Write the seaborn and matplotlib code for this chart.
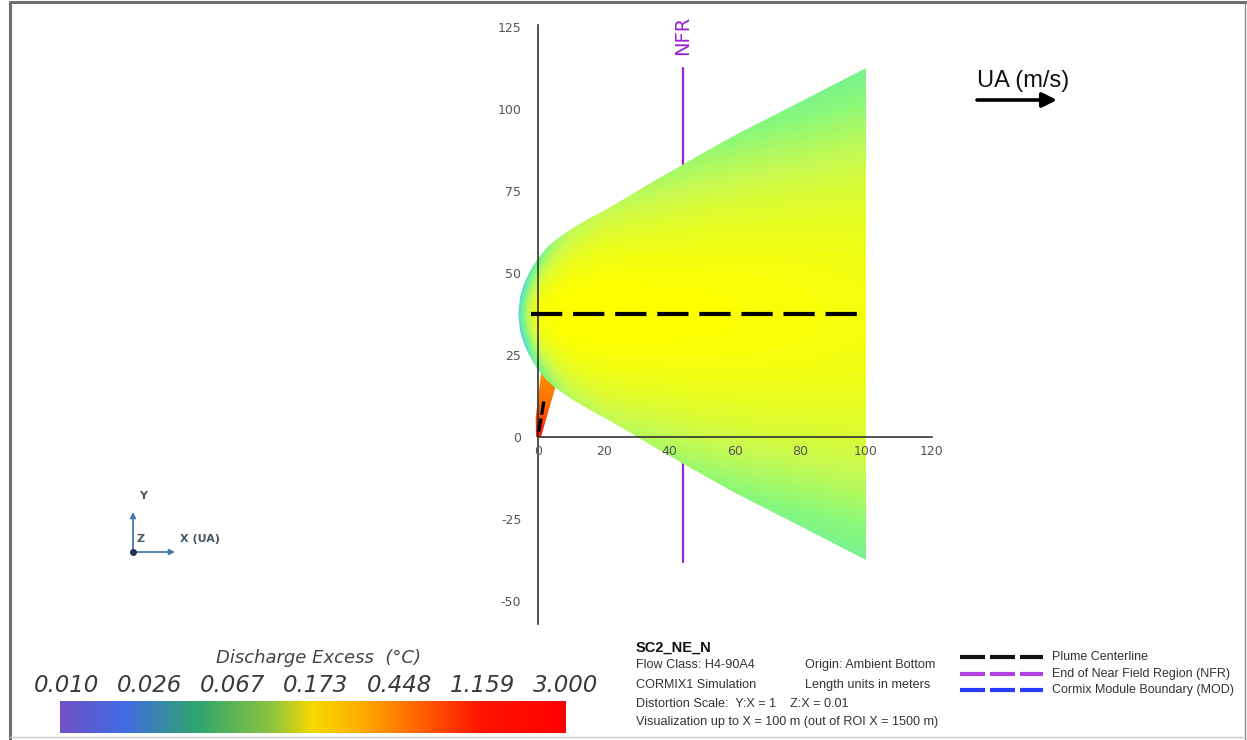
import numpy as np
import matplotlib
matplotlib.use("Agg")
import matplotlib.pyplot as plt
import seaborn as sns
from matplotlib.colors import LinearSegmentedColormap
from matplotlib.patches import Polygon
from matplotlib.lines import Line2D

# ---------------- data ----------------
station_x = [-6, -5.5, -5, -4, -3, -1.5, 0, 2.5, 5, 10, 15, 20, 27, 35, 44, 60, 80, 100]
half_width = [0, 4.9, 6.9, 9.8, 12, 14.7, 17, 20, 22.3, 25.8, 28.8, 31.5, 35.5, 40.3, 45.5, 54.5, 64.7, 75]
centerline_y = 37.5
centerline_x = [-2, 100]

conc_x = [-6, -3, 0, 5, 10, 20, 40, 60, 80, 100]
core_conc = [0.045, 0.12, 0.165, 0.172, 0.175, 0.175, 0.172, 0.17, 0.167, 0.163]
edge_conc = [0.035, 0.05, 0.075, 0.10, 0.115, 0.12, 0.105, 0.092, 0.082, 0.076]

jet_x = [-0.6, 0.9, 5.4, 4.8, 1.0, -0.7]
jet_y = [0, 0, 15.5, 19, 20, 6]
jet_conc_y = [0, 5, 10, 20]
jet_conc = [1.6, 0.9, 0.6, 0.45]
jet_centerline_x = [0.2, 1.9]
jet_centerline_y = [1.6, 11.5]

nfr_x = 44.2
nfr_y = [-38, 112.5]

xticks = [0, 20, 40, 60, 80, 100, 120]
yticks = [-50, -25, 0, 25, 50, 75, 100, 125]
cbar_labels = ["0.010", "0.026", "0.067", "0.173", "0.448", "1.159", "3.000"]
cbar_min, cbar_max = 0.010, 3.000

info_title = "SC2_NE_N"
info_left = ["Flow Class: H4-90A4", "CORMIX1 Simulation",
             "Distortion Scale:  Y:X = 1    Z:X = 0.01",
             "Visualization up to X = 100 m (out of ROI X = 1500 m)"]
info_right = ["Origin: Ambient Bottom", "Length units in meters"]
legend_labels = ["Plume Centerline", "End of Near Field Region (NFR)",
                 "Cormix Module Boundary (MOD)"]
legend_colors = ["#111111", "#b040e0", "#2a3cff"]

# ---------------- style ----------------
sns.set_style("white")
plt.rcParams["font.family"] = ["DejaVu Sans"]
plt.rcParams["axes.axisbelow"] = False

W, H = 1247, 740
fig = plt.figure(figsize=(W / 100, H / 100), dpi=100)
ax = fig.add_axes([0, 0, 1, 1])
ax.set_axisbelow(False)
s = 3.28
ax.set_xlim((0 - 538) / s, (W - 538) / s)
ax.set_ylim((437 - H) / s, 437 / s)
ax.patch.set_alpha(0)

# colormaps
field_cmap = LinearSegmentedColormap.from_list("field", [
    (0.0, "#7b60e0"), (1 / 6, "#5aa0f5"), (0.27, "#5cd8d8"), (2 / 6, "#6cf0a0"),
    (0.39, "#8af87a"), (0.44, "#c8fa50"), (0.5, "#ffff00"), (0.58, "#ffd000"),
    (4 / 6, "#ff9200"), (0.75, "#ff5a00"), (5 / 6, "#ff2400"), (1.0, "#ff0000")])
bar_cmap = LinearSegmentedColormap.from_list("bar", [
    (0.0, "#7050c8"), (0.13, "#3f6de2"), (0.27, "#2ea56e"), (0.42, "#8cc63e"),
    (0.5, "#f7d800"), (0.6, "#ffaa00"), (0.7, "#ff6a00"), (0.83, "#ff1500"),
    (1.0, "#ff0000")])

def to_p(v):
    return np.log(np.asarray(v) / cbar_min) / np.log(cbar_max / cbar_min)

# ---------------- plume field ----------------
gx = np.linspace(-7, 100, 700)
gy = np.linspace(-40, 115, 900)
X, Y = np.meshgrid(gx, gy)
b = np.interp(X, station_x, half_width)
cc = np.log(np.interp(X, conc_x, core_conc))
ec = np.log(np.interp(X, conc_x, edge_conc))
r = np.clip(np.abs(Y - centerline_y) / np.maximum(b, 1e-6), 0, 1)
val = np.exp(cc + (ec - cc) * r ** 2.2)
im = ax.imshow(to_p(val), extent=[gx[0], gx[-1], gy[0], gy[-1]], origin="lower",
               cmap=field_cmap, vmin=0, vmax=1, interpolation="bilinear",
               aspect="auto", zorder=0.3)
xx = np.linspace(-6, 100, 900)
bb = np.interp(xx, station_x, half_width)
verts = np.vstack([np.column_stack([xx, centerline_y + bb]),
                   np.column_stack([xx[::-1], centerline_y - bb[::-1]])])
plume_poly = Polygon(verts, closed=True, transform=ax.transData,
                     facecolor="none", edgecolor="none")
im.set_clip_path(plume_poly)

# near-field jet
jx = np.linspace(-1, 6, 60)
jy = np.linspace(0, 21, 120)
JX, JY = np.meshgrid(jx, jy)
jval = np.exp(np.interp(JY, jet_conc_y, np.log(jet_conc)))
jim = ax.imshow(to_p(jval), extent=[jx[0], jx[-1], jy[0], jy[-1]], origin="lower",
                cmap=field_cmap, vmin=0, vmax=1, interpolation="bilinear",
                aspect="auto", zorder=0.2)
jet_poly = Polygon(np.column_stack([jet_x, jet_y]), closed=True,
                   transform=ax.transData, facecolor="none", edgecolor="none")
jim.set_clip_path(jet_poly)

# NFR line (behind plume)
ax.plot([nfr_x, nfr_x], nfr_y, color="#9a22d0", lw=1.6, zorder=0.1)
ax.text(nfr_x, 122.5, "NFR", rotation=90, color="#9a22d0", fontsize=14,
        ha="center", va="center")

# centerlines
sns.lineplot(x=centerline_x, y=[centerline_y, centerline_y], ax=ax, color="black",
             lw=3.0, linestyle=(0, (7.5, 2.6)), zorder=4)
ax.plot(jet_centerline_x, jet_centerline_y, color="black", lw=2.4,
        linestyle=(0, (4, 1.2)), zorder=4)

# axes through origin
for sp in ["top", "right"]:
    ax.spines[sp].set_visible(False)
ax.spines["left"].set_position(("data", 0))
ax.spines["bottom"].set_position(("data", 0))
ax.spines["left"].set_bounds(-57, 125.5)
ax.spines["bottom"].set_bounds(0, 120)
for sp in ["left", "bottom"]:
    ax.spines[sp].set_color("#333333")
    ax.spines[sp].set_linewidth(1.2)
    ax.spines[sp].set_zorder(3)
ax.set_xticks(xticks)
ax.set_yticks(yticks)
ax.set_xticklabels([str(t) for t in xticks])
ax.set_yticklabels([str(t) for t in yticks])
ax.tick_params(axis="both", direction="inout", length=6, width=1.1,
               color="#333333", labelcolor="#555555", labelsize=9)
ax.tick_params(axis="y", pad=9)
ax.tick_params(axis="x", pad=3)
ax.xaxis.set_zorder(3)
ax.yaxis.set_zorder(3)
ax.grid(False)

# ---------------- UA arrow ----------------
def fp(x, y):
    return (x / W, 1 - y / H)

fig.text(*fp(977, 81), "UA (m/s)", fontsize=17, family="Liberation Sans",
         ha="left", va="center", color="#111111")
ax.annotate("", xy=fp(1057, 100), xytext=fp(977, 100), xycoords="figure fraction",
            textcoords="figure fraction",
            arrowprops=dict(arrowstyle="-|>", lw=2.6, color="black",
                            mutation_scale=22, shrinkA=0, shrinkB=0))

# ---------------- coordinate triad ----------------
tri = "#4a78ac"
ax.annotate("", xy=fp(133, 512), xytext=fp(133, 552), xycoords="figure fraction",
            textcoords="figure fraction",
            arrowprops=dict(arrowstyle="-|>", lw=1.3, color=tri, mutation_scale=8,
                            shrinkA=0, shrinkB=0))
ax.annotate("", xy=fp(175, 552), xytext=fp(133, 552), xycoords="figure fraction",
            textcoords="figure fraction",
            arrowprops=dict(arrowstyle="-|>", lw=1.3, color=tri, mutation_scale=8,
                            shrinkA=0, shrinkB=0))
fig.add_artist(Line2D([133 / W], [1 - 552 / H], marker="o", markersize=4,
                      color="#223355", transform=fig.transFigure))
fig.text(*fp(143, 496), "Y", fontsize=8, color="#445566", ha="center", va="center",
         fontweight="bold")
fig.text(*fp(141, 539), "Z", fontsize=8, color="#445566", ha="center", va="center",
         fontweight="bold")
fig.text(*fp(180, 539), "X (UA)", fontsize=8, color="#445566", ha="left", va="center",
         fontweight="bold")

# ---------------- colour bar ----------------
cax = fig.add_axes([60 / W, 1 - 733 / H, 506 / W, 32 / H])
cax.imshow(np.linspace(0, 1, 512)[None, :], cmap=bar_cmap, aspect="auto",
           extent=[0, 1, 0, 1])
cax.set_axis_off()
fig.text(*fp(318, 658), "Discharge Excess  (°C)", fontsize=13, style="italic",
         color="#444444", ha="center", va="center")
for i, lab in enumerate(cbar_labels):
    fig.text(*fp(66 + 83.3 * i, 685), lab, fontsize=16.5, style="italic",
             color="#3a3a3a", ha="center", va="center")

# ---------------- info block ----------------
fig.text(*fp(636, 648), info_title, fontsize=10.5, fontweight="bold",
         family="Liberation Sans", ha="left", va="center", color="#111111")
for txt, yy in zip(info_left, [665, 685, 704, 722]):
    fig.text(*fp(636, yy), txt, fontsize=9.1, family="Liberation Sans",
             ha="left", va="center", color="#333333")
for txt, yy in zip(info_right, [665, 685]):
    fig.text(*fp(805, yy), txt, fontsize=9.1, family="Liberation Sans",
             ha="left", va="center", color="#333333")
for lab, col, yy in zip(legend_labels, legend_colors, [657, 674, 690]):
    fig.add_artist(Line2D([960 / W, 1043 / W], [1 - yy / H] * 2, color=col, lw=3,
                          linestyle=(0, (6, 1.2)), transform=fig.transFigure))
    fig.text(*fp(1052, yy), lab, fontsize=9.0, family="Liberation Sans",
             ha="left", va="center", color="#333333")

# ---------------- frame ----------------
fig.add_artist(Line2D([10 / W, 10 / W], [0, 1 - 2 / H], color="#6e6e6e", lw=2.2,
                      transform=fig.transFigure))
fig.add_artist(Line2D([10 / W, 1], [1 - 2 / H, 1 - 2 / H], color="#6e6e6e", lw=2.2,
                      transform=fig.transFigure))
fig.add_artist(Line2D([1244.5 / W, 1244.5 / W], [0, 1 - 2 / H], color="#8a8a8a", lw=1,
                      transform=fig.transFigure))
fig.add_artist(Line2D([10 / W, 1], [3 / H, 3 / H], color="#c8c8c8", lw=1,
                      transform=fig.transFigure))

fig.savefig("out.png", dpi=100)
